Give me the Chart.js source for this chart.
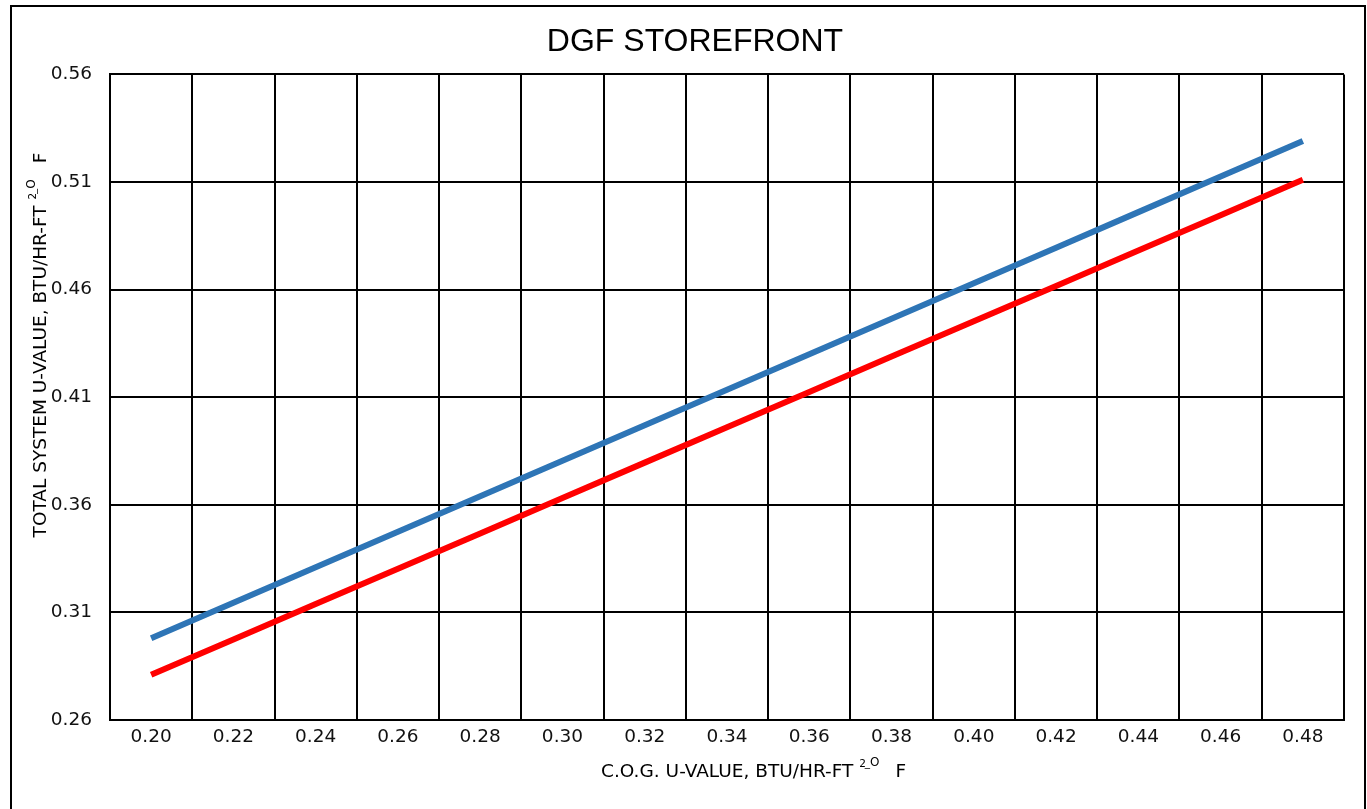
<!DOCTYPE html>
<html>
<head>
<meta charset="utf-8">
<script src="https://cdn.jsdelivr.net/npm/chart.js@4.4.0/dist/chart.umd.min.js"></script>
<style>
  body { margin: 0; background: #fff; overflow: hidden; }
  #frame { position: absolute; left: 10px; top: 5px; width: 1352px; height: 900px; border: 2px solid #000; }
  #myChart { position: absolute; left: 0; top: 0; }
</style>
</head>
<body>
<div id="frame"></div>
<canvas id="myChart" width="1367" height="809"></canvas>
<script>
// C.O.G. u-values along the bottom
var cogLabels = ['0.20', '0.22', '0.24', '0.26', '0.28', '0.30', '0.32', '0.34',
                 '0.36', '0.38', '0.40', '0.42', '0.44', '0.46', '0.48'];
// total system u-value
var blueValues = [0.2980, 0.3145, 0.3310, 0.3475, 0.3640, 0.3805, 0.3970, 0.4135,
                  0.4300, 0.4465, 0.4630, 0.4795, 0.4960, 0.5125, 0.5290];
var redValues = [0.2810, 0.2974, 0.3139, 0.3303, 0.3467, 0.3632, 0.3796, 0.3960,
                 0.4124, 0.4289, 0.4453, 0.4617, 0.4782, 0.4946, 0.5110];
var yTicks = [0.26, 0.31, 0.36, 0.41, 0.46, 0.51, 0.56];

var chartTitle = 'DGF STOREFRONT';
var xTitle = 'C.O.G. U-VALUE, BTU/HR-FT';
var yTitle = 'TOTAL SYSTEM U-VALUE, BTU/HR-FT';

var FONT = "'DejaVu Sans', Verdana, sans-serif";

// draws "<text> 2_O F" with the small raised bits
function drawUnitTitle(ctx, text) {
    ctx.textAlign = 'left';
    ctx.textBaseline = 'alphabetic';
    var x = 0;
    ctx.font = '18.5px ' + FONT;
    ctx.fillText(text + ' ', x, 0);
    x += ctx.measureText(text + ' ').width;
    ctx.font = '10.5px ' + FONT;
    ctx.fillText('2', x, -10);
    x += ctx.measureText('2').width;
    ctx.fillText('_', x - 1, -11);
    x += ctx.measureText('_').width - 1;
    ctx.font = '12px ' + FONT;
    ctx.fillText('O', x, -11);
    x += ctx.measureText('O').width + 10;
    ctx.font = '18.5px ' + FONT;
    ctx.fillText(' F', x, 0);
}

var axisTitles = {
    id: 'axisTitles',
    afterDraw: function(chart) {
        var ctx = chart.ctx;
        var area = chart.chartArea;
        ctx.save();
        ctx.fillStyle = '#000';
        ctx.translate(area.left + 491, area.bottom + 57);
        drawUnitTitle(ctx, xTitle);
        ctx.restore();

        ctx.save();
        ctx.fillStyle = '#000';
        ctx.translate(area.left - 64, area.top + 463);
        ctx.rotate(-Math.PI / 2);
        drawUnitTitle(ctx, yTitle);
        ctx.restore();
    }
};

var ctx = document.getElementById('myChart').getContext('2d');
var myChart = new Chart(ctx, {
    type: 'line',
    data: {
        labels: cogLabels,
        datasets: [{
            label: 'Blue',
            data: blueValues,
            borderColor: '#2E75B6',
            backgroundColor: '#2E75B6',
            borderWidth: 6,
            pointRadius: 0,
            tension: 0
        }, {
            label: 'Red',
            data: redValues,
            borderColor: '#FF0000',
            backgroundColor: '#FF0000',
            borderWidth: 6,
            pointRadius: 0,
            tension: 0
        }]
    },
    options: {
        responsive: false,
        animation: false,
        layout: {
            padding: { top: 23, left: 46, right: 23, bottom: 0 }
        },
        plugins: {
            legend: { display: false },
            tooltip: { enabled: false },
            title: {
                display: true,
                text: chartTitle,
                color: '#000',
                font: { family: "'Liberation Sans', Arial, sans-serif", size: 32, weight: 'normal' },
                padding: { top: 0, bottom: 13 }
            }
        },
        scales: {
            x: {
                type: 'category',
                offset: true,
                grid: { offset: true, color: '#000', lineWidth: 2, drawTicks: false },
                border: { display: true, color: '#000', width: 2 },
                ticks: { color: '#111', padding: 6, maxRotation: 0, font: { family: FONT, size: 18.5 } },
                afterFit: function(scale) { scale.height = 89; }
            },
            y: {
                min: 0.26,
                max: 0.56,
                grid: { color: '#000', lineWidth: 2, drawTicks: false },
                border: { display: true, color: '#000', width: 2 },
                ticks: {
                    color: '#111',
                    padding: 18,
                    font: { family: FONT, size: 18.5 },
                    callback: function(value) { return Number(value).toFixed(2); }
                },
                afterBuildTicks: function(scale) {
                    scale.ticks = yTicks.map(function(v) { return { value: v }; });
                },
                afterFit: function(scale) { scale.width = 64; }
            }
        }
    },
    plugins: [axisTitles]
});
</script>
</body>
</html>
